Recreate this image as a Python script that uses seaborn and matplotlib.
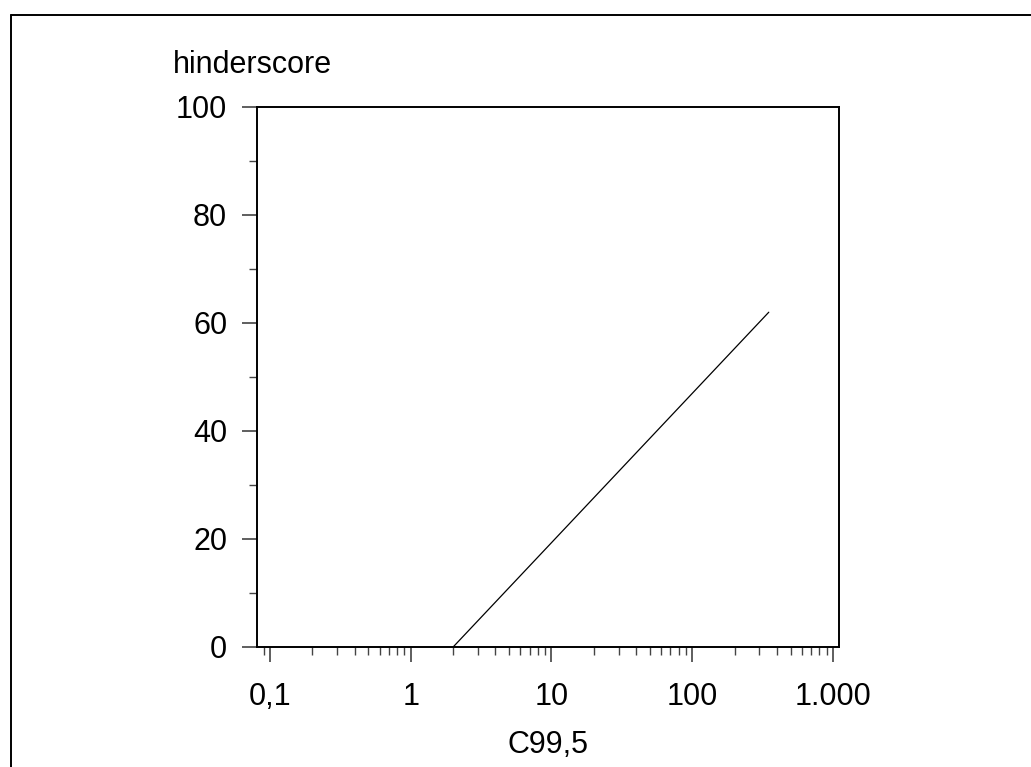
import numpy as np
import pandas as pd
import seaborn as sns
import matplotlib.pyplot as plt
from matplotlib.lines import Line2D
from matplotlib.ticker import LogLocator, MultipleLocator, NullFormatter

# Dane wykresu
c995 = [2, 350]
hinderscore = [0, 62]
x_ticks = [0.1, 1, 10, 100, 1000]
x_tick_labels = ['0,1', '1', '10', '100', '1.000']
y_ticks = [0, 20, 40, 60, 80, 100]

sns.set_theme(style="ticks")
plt.rcParams['font.family'] = ['Liberation Sans', 'DejaVu Sans']
plt.rcParams['text.color'] = 'black'

fig = plt.figure(figsize=(10.31, 7.67), dpi=100)
ax = fig.add_axes([257 / 1031, 120 / 767, 582 / 1031, 540 / 767])

df = pd.DataFrame({'C99,5': c995, 'hinderscore': hinderscore})
sns.lineplot(data=df, x='C99,5', y='hinderscore', color='black', linewidth=0.9, ax=ax)

ax.set_xscale('log')
ax.set_xlim(0.0808, 1104)
ax.set_ylim(0, 100)

ax.set_xticks(x_ticks)
ax.set_xticklabels(x_tick_labels)
ax.xaxis.set_minor_locator(LogLocator(base=10, subs=np.arange(2, 10)))
ax.xaxis.set_minor_formatter(NullFormatter())
ax.set_yticks(y_ticks)
ax.yaxis.set_minor_locator(MultipleLocator(10))

for side in ['left', 'right', 'top', 'bottom']:
    ax.spines[side].set_visible(True)
    ax.spines[side].set_linewidth(1.4)
    ax.spines[side].set_color('black')

ax.tick_params(which='major', length=10.5, width=1.1, color='#333333',
               labelsize=22, labelcolor='black')
ax.tick_params(axis='x', which='major', pad=14.5)
ax.tick_params(axis='y', which='major', pad=11)
ax.tick_params(which='minor', length=5.5, width=1.0, color='#444444')
ax.tick_params(axis='x', which='minor', bottom=True)

ax.set_xlabel('C99,5', fontsize=22, labelpad=13.5, color='black')
ax.set_ylabel('')
ax.text(-0.144, 1.063, 'hinderscore', transform=ax.transAxes,
        fontsize=22, ha='left', va='baseline', color='black')

# ramka rond de figuur
fig.add_artist(Line2D([11 / 1031, 11 / 1031], [0, 1 - 15 / 767],
                      transform=fig.transFigure, color='black', linewidth=1.4))
fig.add_artist(Line2D([11 / 1031, 1031 / 1031], [1 - 15 / 767, 1 - 15 / 767],
                      transform=fig.transFigure, color='black', linewidth=1.4))

fig.savefig('out.png', dpi=100)
